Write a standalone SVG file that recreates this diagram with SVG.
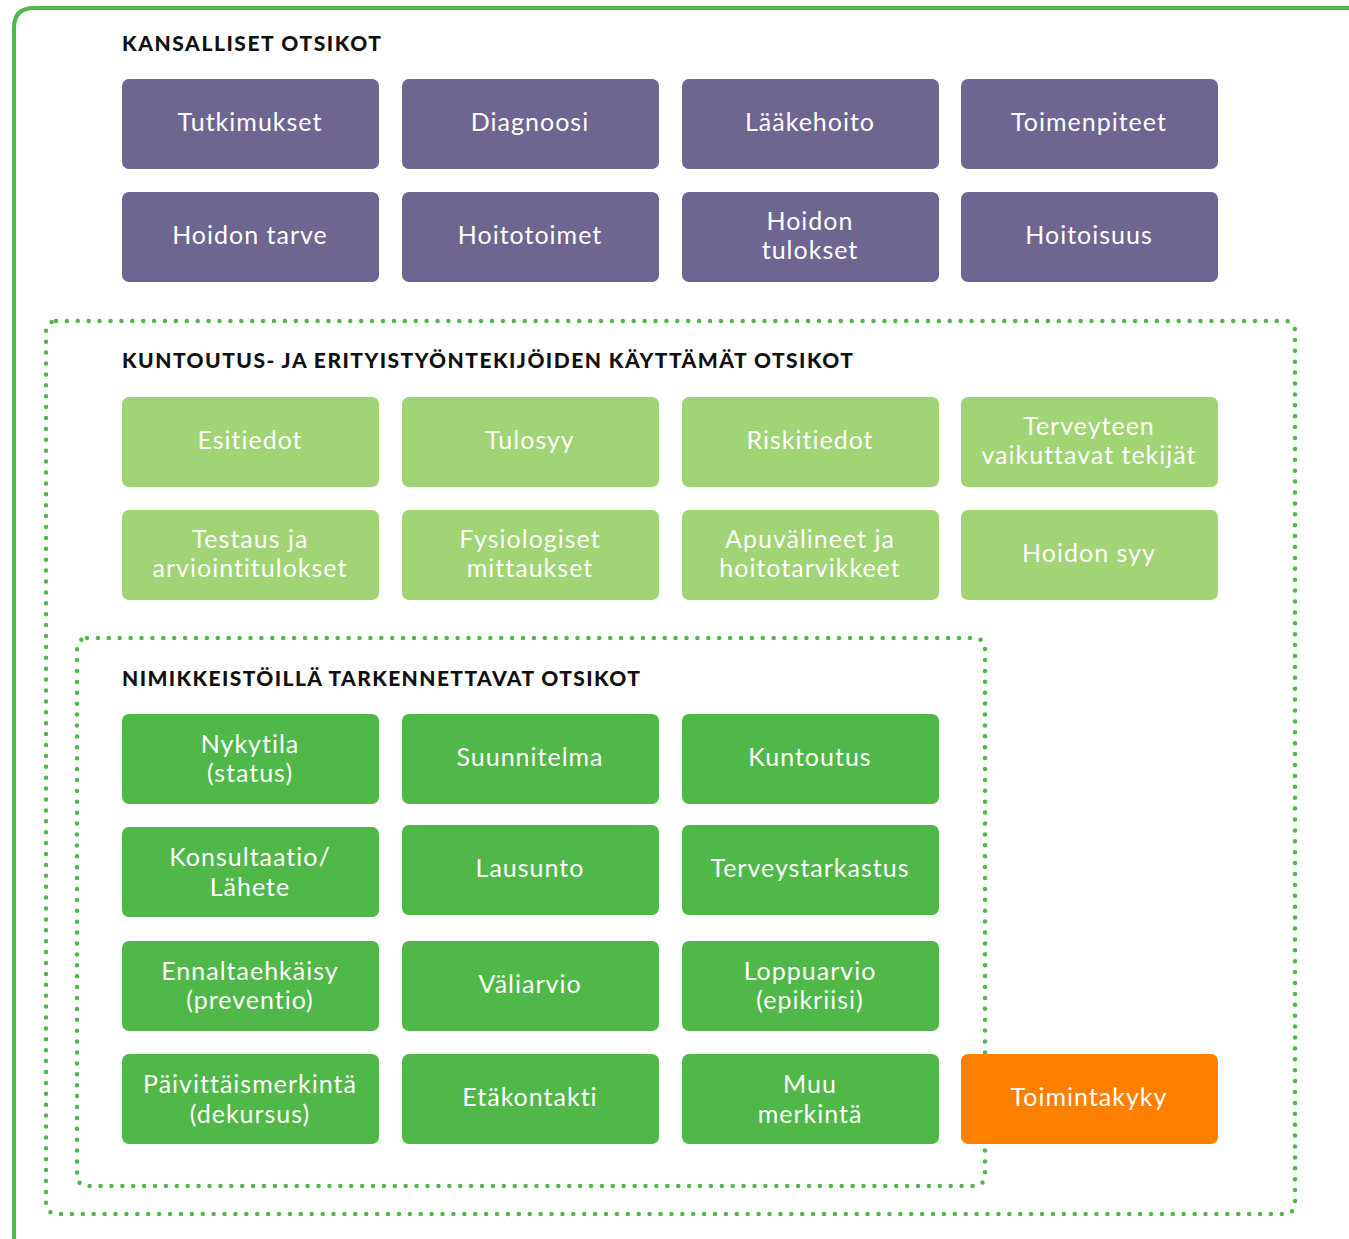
<svg xmlns="http://www.w3.org/2000/svg" width="1349" height="1239" viewBox="0 0 1349 1239">
  <style>
    .frame { fill: none; stroke: #50B848; stroke-width: 4; }
    .dots { fill: none; stroke: #50B848; stroke-width: 4.5; stroke-linecap: round; stroke-dasharray: 0 10.9; }
    .head { font-family: "Lato", "Liberation Sans", sans-serif; font-weight: 900; font-size: 21px; fill: #111; }
    .box { stroke: none; }
    .purple { fill: #6E6690; }
    .light { fill: #A0D474; }
    .green { fill: #50B848; }
    .orange { fill: #FF8000; }
    .lbl { font-family: "Lato", "Liberation Sans", sans-serif; font-size: 25px; fill: #fff; text-anchor: middle; letter-spacing: 1px; }
  </style>
  <rect width="1349" height="1239" fill="#fff"/>

  <!-- outer frame, open on the right and bottom -->
  <path class="frame" d="M14 1239 V28 Q14 8 34 8 H1349"/>

  <!-- dotted group outlines -->
  <g id="groups">
    <rect class="dots" x="46" y="321" width="1249" height="893" rx="10"/>
    <rect class="dots" x="77" y="638" width="908" height="548" rx="10"/>
  </g>

  <!-- section headings -->
  <text class="head" x="122" y="51" textLength="259" lengthAdjust="spacing">KANSALLISET OTSIKOT</text>
  <text class="head" x="122" y="368" textLength="731" lengthAdjust="spacing">KUNTOUTUS- JA ERITYISTYÖNTEKIJÖIDEN KÄYTTÄMÄT OTSIKOT</text>
  <text class="head" x="122" y="686" textLength="518" lengthAdjust="spacing">NIMIKKEISTÖILLÄ TARKENNETTAVAT OTSIKOT</text>

  <g id="connectors"></g>

  <!-- national headings -->
  <g id="n-tutkimukset"><rect class="box purple" x="122" y="79" width="257" height="90" rx="7"/><text class="lbl" x="250" y="131">Tutkimukset</text></g>
  <g id="n-diagnoosi"><rect class="box purple" x="402" y="79" width="257" height="90" rx="7"/><text class="lbl" x="530" y="131">Diagnoosi</text></g>
  <g id="n-laakehoito"><rect class="box purple" x="682" y="79" width="257" height="90" rx="7"/><text class="lbl" x="810" y="131">Lääkehoito</text></g>
  <g id="n-toimenpiteet"><rect class="box purple" x="961" y="79" width="257" height="90" rx="7"/><text class="lbl" x="1089" y="131">Toimenpiteet</text></g>
  <g id="n-hoidon-tarve"><rect class="box purple" x="122" y="192" width="257" height="90" rx="7"/><text class="lbl" x="250" y="244">Hoidon tarve</text></g>
  <g id="n-hoitotoimet"><rect class="box purple" x="402" y="192" width="257" height="90" rx="7"/><text class="lbl" x="530" y="244">Hoitotoimet</text></g>
  <g id="n-hoidon-tulokset"><rect class="box purple" x="682" y="192" width="257" height="90" rx="7"/><text class="lbl" x="810" y="230">Hoidon</text><text class="lbl" x="810" y="259">tulokset</text></g>
  <g id="n-hoitoisuus"><rect class="box purple" x="961" y="192" width="257" height="90" rx="7"/><text class="lbl" x="1089" y="244">Hoitoisuus</text></g>

  <!-- rehabilitation and specialist headings -->
  <g id="n-esitiedot"><rect class="box light" x="122" y="397" width="257" height="90" rx="7"/><text class="lbl" x="250" y="449">Esitiedot</text></g>
  <g id="n-tulosyy"><rect class="box light" x="402" y="397" width="257" height="90" rx="7"/><text class="lbl" x="530" y="449">Tulosyy</text></g>
  <g id="n-riskitiedot"><rect class="box light" x="682" y="397" width="257" height="90" rx="7"/><text class="lbl" x="810" y="449">Riskitiedot</text></g>
  <g id="n-terveyteen"><rect class="box light" x="961" y="397" width="257" height="90" rx="7"/><text class="lbl" x="1089" y="435">Terveyteen</text><text class="lbl" x="1089" y="464">vaikuttavat tekijät</text></g>
  <g id="n-testaus"><rect class="box light" x="122" y="510" width="257" height="90" rx="7"/><text class="lbl" x="250" y="548">Testaus ja</text><text class="lbl" x="250" y="577">arviointitulokset</text></g>
  <g id="n-fysiologiset"><rect class="box light" x="402" y="510" width="257" height="90" rx="7"/><text class="lbl" x="530" y="548">Fysiologiset</text><text class="lbl" x="530" y="577">mittaukset</text></g>
  <g id="n-apuvalineet"><rect class="box light" x="682" y="510" width="257" height="90" rx="7"/><text class="lbl" x="810" y="548">Apuvälineet ja</text><text class="lbl" x="810" y="577">hoitotarvikkeet</text></g>
  <g id="n-hoidon-syy"><rect class="box light" x="961" y="510" width="257" height="90" rx="7"/><text class="lbl" x="1089" y="562">Hoidon syy</text></g>

  <!-- headings refined with nomenclatures -->
  <g id="n-nykytila"><rect class="box green" x="122" y="714" width="257" height="90" rx="7"/><text class="lbl" x="250" y="753">Nykytila</text><text class="lbl" x="250" y="782">(status)</text></g>
  <g id="n-suunnitelma"><rect class="box green" x="402" y="714" width="257" height="90" rx="7"/><text class="lbl" x="530" y="766">Suunnitelma</text></g>
  <g id="n-kuntoutus"><rect class="box green" x="682" y="714" width="257" height="90" rx="7"/><text class="lbl" x="810" y="766">Kuntoutus</text></g>
  <g id="n-konsultaatio"><rect class="box green" x="122" y="827" width="257" height="90" rx="7"/><text class="lbl" x="250" y="866">Konsultaatio/</text><text class="lbl" x="250" y="896">Lähete</text></g>
  <g id="n-lausunto"><rect class="box green" x="402" y="825" width="257" height="90" rx="7"/><text class="lbl" x="530" y="877">Lausunto</text></g>
  <g id="n-terveystarkastus"><rect class="box green" x="682" y="825" width="257" height="90" rx="7"/><text class="lbl" x="810" y="877">Terveystarkastus</text></g>
  <g id="n-ennaltaehkaisy"><rect class="box green" x="122" y="941" width="257" height="90" rx="7"/><text class="lbl" x="250" y="980">Ennaltaehkäisy</text><text class="lbl" x="250" y="1009">(preventio)</text></g>
  <g id="n-valiarvio"><rect class="box green" x="402" y="941" width="257" height="90" rx="7"/><text class="lbl" x="530" y="993">Väliarvio</text></g>
  <g id="n-loppuarvio"><rect class="box green" x="682" y="941" width="257" height="90" rx="7"/><text class="lbl" x="810" y="980">Loppuarvio</text><text class="lbl" x="810" y="1009">(epikriisi)</text></g>
  <g id="n-paivittaismerkinta"><rect class="box green" x="122" y="1054" width="257" height="90" rx="7"/><text class="lbl" x="250" y="1093">Päivittäismerkintä</text><text class="lbl" x="250" y="1123">(dekursus)</text></g>
  <g id="n-etakontakti"><rect class="box green" x="402" y="1054" width="257" height="90" rx="7"/><text class="lbl" x="530" y="1106">Etäkontakti</text></g>
  <g id="n-muu-merkinta"><rect class="box green" x="682" y="1054" width="257" height="90" rx="7"/><text class="lbl" x="810" y="1093">Muu</text><text class="lbl" x="810" y="1123">merkintä</text></g>
  <g id="n-toimintakyky"><rect class="box orange" x="961" y="1054" width="257" height="90" rx="7"/><text class="lbl" x="1089" y="1106">Toimintakyky</text></g>
</svg>
